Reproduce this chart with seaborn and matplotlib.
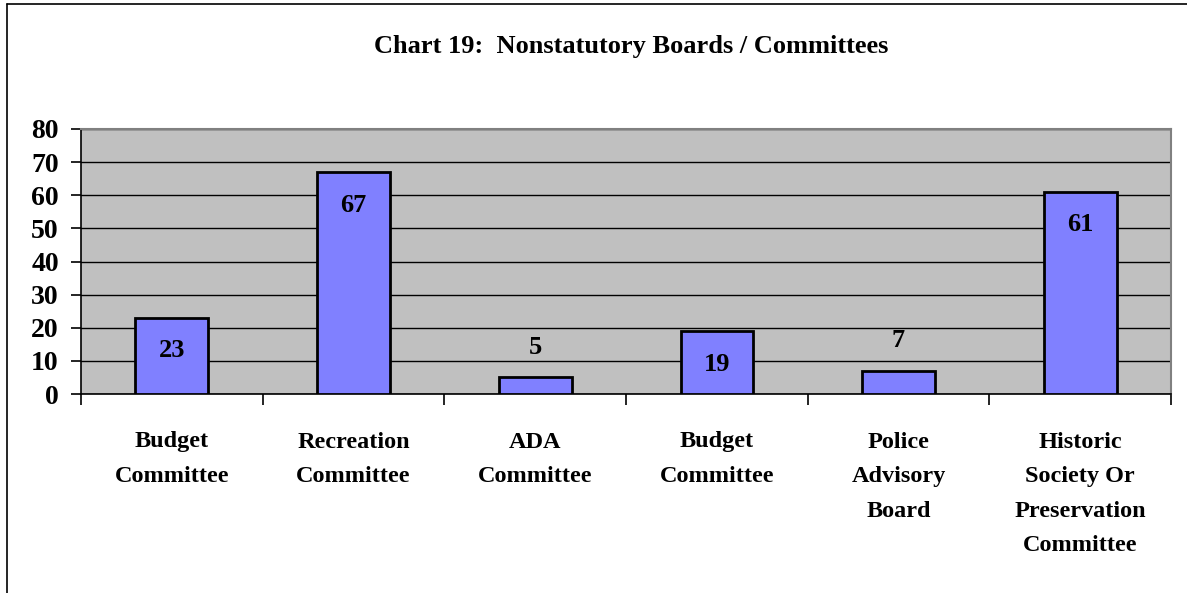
import matplotlib.pyplot as plt
import matplotlib.lines as mlines
import pandas as pd
import seaborn as sns

# data
committees = ['Budget\nCommittee', 'Recreation\nCommittee', 'ADA\nCommittee',
              'Budget\nCommittee', 'Police\nAdvisory\nBoard',
              'Historic\nSociety Or\nPreservation\nCommittee']
counts = [23, 67, 5, 19, 7, 61]
yticks = [0, 10, 20, 30, 40, 50, 60, 70, 80]

df = pd.DataFrame({'pos': range(len(counts)), 'count': counts})

sns.set_style('white')
plt.rcParams['font.family'] = ['Liberation Serif', 'DejaVu Serif']
plt.rcParams['font.weight'] = 'bold'
plt.rcParams['text.color'] = 'black'
plt.rcParams['xtick.color'] = 'black'
plt.rcParams['ytick.color'] = 'black'

W, H = 1187, 593
fig = plt.figure(figsize=(W / 100, H / 100), dpi=100)
ax = fig.add_axes([81 / W, 1 - 394 / H, (1171 - 81) / W, (394 - 129) / H])

sns.barplot(data=df, x='pos', y='count', color='#8080FF', saturation=1,
            width=0.4, edgecolor='black', linewidth=2, ax=ax, zorder=3)

ax.set_facecolor('#C0C0C0')
ax.set_ylim(0, 80)
ax.set_xlim(-0.5, len(counts) - 0.5)
ax.set_yticks(yticks)
ax.yaxis.grid(True, color='black', linewidth=1)
ax.set_axisbelow(True)
for s in ['top', 'right']:
    ax.spines[s].set_color('#808080')
    ax.spines[s].set_linewidth(1.5)
for s in ['left', 'bottom']:
    ax.spines[s].set_color('black')
    ax.spines[s].set_linewidth(1.2)

ax.set_xticks(range(len(counts)))
ax.set_xticklabels(committees, fontsize=17.5, fontweight='bold', linespacing=1.85)
ax.tick_params(axis='x', which='major', length=0, pad=27)
ax.set_xticks([i - 0.5 for i in range(len(counts) + 1)], minor=True)
ax.tick_params(axis='x', which='minor', bottom=True, length=8, width=1.2,
               direction='out')
ax.tick_params(axis='y', left=True, length=7, width=1.2, direction='out',
               labelsize=20, pad=9)
for t in ax.get_yticklabels():
    t.set_fontweight('bold')
ax.set_xlabel('')
ax.set_ylabel('')

# value labels
for i, v in enumerate(counts):
    if v >= 10:
        ax.annotate(str(v), (i, v), xytext=(0, -33), textcoords='offset pixels',
                    ha='center', va='center', fontsize=19, fontweight='bold', zorder=4)
    else:
        ax.annotate(str(v), (i, v), xytext=(0, 30), textcoords='offset pixels',
                    ha='center', va='center', fontsize=19, fontweight='bold', zorder=4)

fig.text(631 / W, 1 - 47 / H, 'Chart 19:  Nonstatutory Boards / Committees',
         ha='center', va='center', fontsize=19, fontweight='bold')

# outer chart frame (left and top edges visible)
fig.add_artist(mlines.Line2D([7 / W, 7 / W], [0, 1 - 4 / H], color='black', lw=1.2))
fig.add_artist(mlines.Line2D([7 / W, 1], [1 - 4 / H, 1 - 4 / H], color='black', lw=1.2))

fig.savefig('out.png', dpi=100)
